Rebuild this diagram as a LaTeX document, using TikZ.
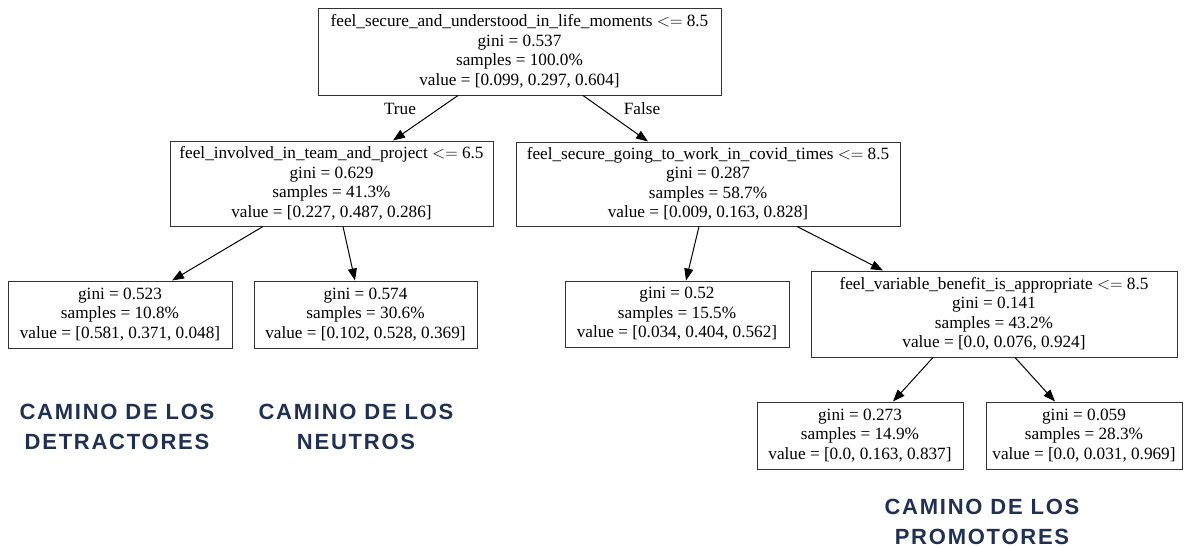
\documentclass[tikz,border=0pt]{standalone}
\usepackage{fontspec}
\setmainfont{Liberation Serif}
\newfontfamily\capfont[LetterSpace=8]{Liberation Sans}
\usetikzlibrary{arrows.meta}
\definecolor{navy}{HTML}{1F3050}
\tikzset{
  box/.style={draw=black!80, line width=1pt, rectangle, inner sep=0pt, align=center,
    font=\fontsize{17.2}{19.5}\selectfont},
  edge/.style={draw=black, line width=1pt, -{Triangle[length=12pt,width=9pt]}},
  elabel/.style={font=\fontsize{17.2}{19.5}\selectfont, inner sep=0pt},
  caption/.style={text=navy, align=center, inner sep=0pt,
    font=\capfont\bfseries\fontsize{22}{30}\selectfont}
}
\begin{document}
\begin{tikzpicture}[x=1pt,y=-1pt]
\useasboundingbox (0,0) rectangle (1187,547);
\node[box, minimum width=403pt, minimum height=87pt] (root) at (519.5,51.5)
 {feel\_secure\_and\_understood\_in\_life\_moments $<=$ 8.5\\gini = 0.537\\samples = 100.0\%\\value = [0.099, 0.297, 0.604]};
\node[box, minimum width=323pt, minimum height=85pt] (l1) at (331.5,183.5)
 {feel\_involved\_in\_team\_and\_project $<=$ 6.5\\gini = 0.629\\samples = 41.3\%\\value = [0.227, 0.487, 0.286]};
\node[box, minimum width=384pt, minimum height=84pt] (r1) at (708,184)
 {feel\_secure\_going\_to\_work\_in\_covid\_times $<=$ 8.5\\gini = 0.287\\samples = 58.7\%\\value = [0.009, 0.163, 0.828]};
\node[box, minimum width=224pt, minimum height=67pt] (a) at (120,314.5)
 {gini = 0.523\\samples = 10.8\%\\value = [0.581, 0.371, 0.048]};
\node[box, minimum width=223pt, minimum height=67pt] (b) at (365.5,314.5)
 {gini = 0.574\\samples = 30.6\%\\value = [0.102, 0.528, 0.369]};
\node[box, minimum width=224pt, minimum height=66pt] (c) at (677,314)
 {gini = 0.52\\samples = 15.5\%\\value = [0.034, 0.404, 0.562]};
\node[box, minimum width=366pt, minimum height=86pt] (n4) at (994,314)
 {feel\_variable\_benefit\_is\_appropriate $<=$ 8.5\\gini = 0.141\\samples = 43.2\%\\value = [0.0, 0.076, 0.924]};
\node[box, minimum width=206pt, minimum height=67pt] (e) at (860,435.5)
 {gini = 0.273\\samples = 14.9\%\\value = [0.0, 0.163, 0.837]};
\node[box, minimum width=196pt, minimum height=67pt] (f) at (1084,435.5)
 {gini = 0.059\\samples = 28.3\%\\value = [0.0, 0.031, 0.969]};

\draw[edge] ([xshift=-61.5pt]root.south) -- ([xshift=61.5pt]l1.north);
\draw[edge] ([xshift=63.5pt]root.south) -- ([xshift=-60pt]r1.north);
\draw[edge] ([xshift=-68.5pt]l1.south) -- ([xshift=52pt]a.north);
\draw[edge] ([xshift=11.5pt]l1.south) -- ([xshift=-10.5pt]b.north);
\draw[edge] ([xshift=-9pt]r1.south) -- ([xshift=9pt]c.north);
\draw[edge] ([xshift=89pt]r1.south) -- ([xshift=-111pt]n4.north);
\draw[edge] ([xshift=-61pt]n4.south) -- ([xshift=33pt]e.north);
\draw[edge] ([xshift=21pt]n4.south) -- ([xshift=-29pt]f.north);

\node[elabel] (tl) at (400,109) {True};
\node[elabel] (fl) at (642,109) {False};

\node[caption] (cd) at (117,427) {CAMINO DE LOS\\DETRACTORES};
\node[caption] (cn) at (356,427) {CAMINO DE LOS\\NEUTROS};
\node[caption] (cp) at (982,522) {CAMINO DE LOS\\PROMOTORES};
\end{tikzpicture}
\end{document}
